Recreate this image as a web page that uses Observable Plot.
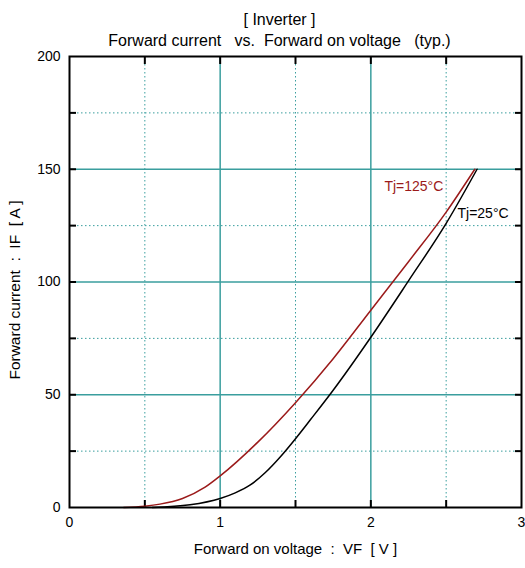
<!DOCTYPE html>
<html>
<head>
<meta charset="utf-8">
<script src="https://cdn.jsdelivr.net/npm/d3@7"></script>
<script src="https://cdn.jsdelivr.net/npm/@observablehq/plot@0.6"></script>
<style>
  body { margin: 0; background: #fff; }
  #chart svg { font-family: "Liberation Sans", Arial, sans-serif; }
</style>
</head>
<body>
<div id="chart"></div>
<script>
// Tj = 125°C curve
const vf125 = [0.36, 0.5, 0.6, 0.75, 0.9, 1.0, 1.25, 1.5, 1.75, 2.0, 2.25, 2.5, 2.69];
const if125 = [0, 0.6, 1.5, 4, 9, 14, 29, 46.5, 66, 87.5, 109, 131, 150];
// Tj = 25°C curve
const vf25 = [0.55, 0.8, 1.0, 1.1, 1.2, 1.3, 1.4, 1.5, 1.6, 1.75, 2.0, 2.25, 2.5, 2.705];
const if25 = [0, 1.2, 4, 6.5, 10, 15.5, 22.5, 30.5, 39, 52, 75.5, 100.5, 126, 150];

const xMajor = [1, 2];
const xMinor = [0.5, 1.5, 2.5];
const xTicks = [0, 1, 2, 3];
const xAllTicks = [0.5, 1, 1.5, 2, 2.5];
const yMajor = [50, 100, 150];
const yMinor = [25, 75, 125, 175];
const yTicks = [0, 50, 100, 150, 200];
const yAllTicks = [25, 50, 75, 100, 125, 150, 175];

const titleLines = ["[ Inverter ]", "Forward current \u00a0 vs. \u00a0Forward on voltage \u00a0 (typ.)"];
const xLabel = "Forward on voltage \u00a0: \u00a0VF \u00a0[ V ]";
const yLabel = "Forward current \u00a0: \u00a0IF \u00a0[ A ]";
const seriesLabels = ["Tj=125°C", "Tj=25°C"];

const teal = "#3a9e9e";
const red = "#9b1a1a";

const d125 = vf125.map((v, i) => ({vf: v, if: if125[i]}));
const d25 = vf25.map((v, i) => ({vf: v, if: if25[i]}));

const chart = Plot.plot({
  width: 525,
  height: 568,
  marginTop: 56,
  marginBottom: 61,
  marginLeft: 69,
  marginRight: 4,
  style: {fontSize: "14px", fontFamily: "'Liberation Sans', Arial, sans-serif", color: "#000"},
  x: {domain: [0, 3]},
  y: {domain: [0, 200]},
  marks: [
    Plot.ruleX(xMinor, {stroke: teal, strokeWidth: 1, strokeDasharray: "1.5,2.5"}),
    Plot.ruleY(yMinor, {stroke: teal, strokeWidth: 1, strokeDasharray: "1.5,2.5"}),
    Plot.ruleX(xMajor, {stroke: teal, strokeWidth: 1.5}),
    Plot.ruleY(yMajor, {stroke: teal, strokeWidth: 1.5}),
    Plot.axisX(xTicks, {anchor: "bottom", tickSize: 0, tickPadding: 10, label: null, fontSize: 14, tickFormat: d => String(d)}),
    Plot.axisY(yTicks, {anchor: "left", tickSize: 0, tickPadding: 9, label: null, fontSize: 14, tickFormat: d => String(d)}),
    Plot.axisX(xAllTicks, {anchor: "bottom", tickSize: -7, strokeWidth: 2, tickFormat: () => "", label: null}),
    Plot.axisX(xAllTicks, {anchor: "top", tickSize: -7, strokeWidth: 2, tickFormat: () => "", label: null}),
    Plot.axisY(yAllTicks, {anchor: "left", tickSize: -7, strokeWidth: 2, tickFormat: () => "", label: null}),
    Plot.axisY(yAllTicks, {anchor: "right", tickSize: -7, strokeWidth: 2, tickFormat: () => "", label: null}),
    Plot.line(d125, {x: "vf", y: "if", stroke: red, strokeWidth: 1.5, curve: "monotone-x"}),
    Plot.line(d25, {x: "vf", y: "if", stroke: "#000", strokeWidth: 1.5, curve: "monotone-x"}),
    Plot.text([seriesLabels[0]], {x: 2.09, y: 142.3, text: d => d, textAnchor: "start", fill: red, fontSize: 14}),
    Plot.text([seriesLabels[1]], {x: 2.575, y: 130.4, text: d => d, textAnchor: "start", fill: "#000", fontSize: 14}),
    Plot.frame({stroke: "#000", strokeWidth: 2}),
    Plot.text([titleLines[0]], {frameAnchor: "top", dx: -16, dy: -43, text: d => d, fontSize: 16}),
    Plot.text([titleLines[1]], {frameAnchor: "top", dx: -16, dy: -22, text: d => d, fontSize: 16}),
    Plot.text([xLabel], {frameAnchor: "bottom", dy: 46, text: d => d, fontSize: 15}),
    Plot.text([yLabel], {frameAnchor: "left", textAnchor: "middle", dx: -54, dy: 8, rotate: -90, text: d => d, fontSize: 15.5})
  ]
});
document.getElementById("chart").appendChild(chart);
</script>
</body>
</html>
